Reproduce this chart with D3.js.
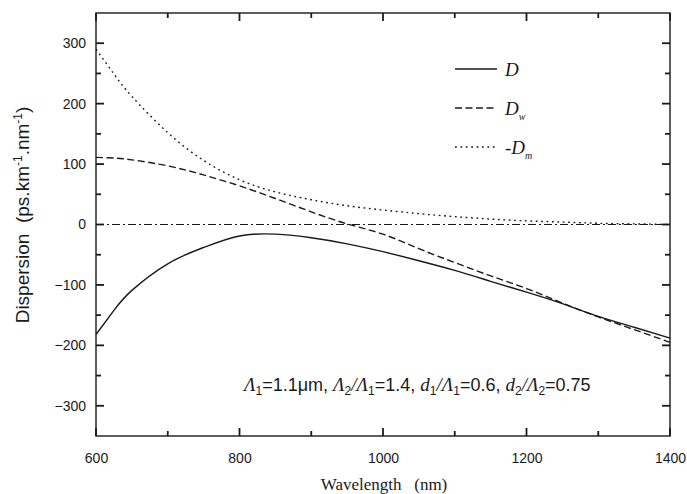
<!DOCTYPE html>
<html>
<head>
<meta charset="utf-8">
<script src="https://cdn.jsdelivr.net/npm/d3@7"></script>
<style>
  body { margin: 0; background: #fff; }
  svg { display: block; }
</style>
</head>
<body>
<div id="chart"></div>
<script>
// values (ps/km/nm vs wavelength in nm)
var wavelength = [600, 625, 650, 700, 750, 800, 850, 900, 950, 1000, 1050, 1100, 1150, 1200, 1250, 1300, 1350, 1400];
var D  = [-182, -142, -109, -65, -38, -19, -16, -22, -32, -45, -60, -76, -94, -112, -131, -152, -170, -188];
var Dw = [111, 110, 107, 97, 82, 64, 43, 21, 1, -16, -40, -63, -85, -106, -130, -153, -174, -195];
var negDm = [290, 249, 212, 152, 106, 74, 54, 41, 31, 24, 18, 13, 9, 6, 4, 2, 1, 0];

var xMajor = [600, 800, 1000, 1200, 1400];
var xMinor = [700, 900, 1100, 1300];
var yMajor = [-300, -200, -100, 0, 100, 200, 300];
var yMinor = [-250, -150, -50, 50, 150, 250];

var W = 687, H = 494;
var margin = {top: 13, right: 17, bottom: 58, left: 96};
var width = W - margin.left - margin.right,
    height = H - margin.top - margin.bottom;

var svg = d3.select("#chart")
            .append("svg")
            .attr("width", W)
            .attr("height", H);

var g = svg.append("g")
           .attr("transform", "translate(" + margin.left + "," + margin.top + ")");

var x = d3.scaleLinear().domain([600, 1400]).range([0, width]);
var y = d3.scaleLinear().domain([-350, 350]).range([height, 0]);

var ink = "#1a1a1a";
var tickFont = "14px 'Liberation Sans', Arial, sans-serif";

// frame
g.append("rect")
 .attr("width", width).attr("height", height)
 .attr("fill", "none").attr("stroke", ink).attr("stroke-width", 1.4);

// inward ticks on all four sides
function xTicks(vals, len) {
    vals.forEach(function(v) {
        g.append("line").attr("class", "tick-mark")
         .attr("x1", x(v)).attr("x2", x(v))
         .attr("y1", height).attr("y2", height - len);
        g.append("line").attr("class", "tick-mark")
         .attr("x1", x(v)).attr("x2", x(v))
         .attr("y1", 0).attr("y2", len);
    });
}
function yTicks(vals, len) {
    vals.forEach(function(v) {
        g.append("line").attr("class", "tick-mark")
         .attr("x1", 0).attr("x2", len)
         .attr("y1", y(v)).attr("y2", y(v));
        g.append("line").attr("class", "tick-mark")
         .attr("x1", width).attr("x2", width - len)
         .attr("y1", y(v)).attr("y2", y(v));
    });
}
xTicks(xMajor, 8); xTicks(xMinor, 5);
yTicks(yMajor, 8); yTicks(yMinor, 5);
g.selectAll(".tick-mark").attr("stroke", ink).attr("stroke-width", 1.8);

// tick labels through the d3 axes (tick marks drawn above)
var xa = g.append("g")
    .attr("transform", "translate(0," + height + ")")
    .call(d3.axisBottom(x).tickValues(xMajor).tickSize(0).tickPadding(17).tickFormat(d3.format("d")));
var ya = g.append("g")
    .call(d3.axisLeft(y).tickValues(yMajor).tickSize(0).tickPadding(10).tickFormat(d3.format("d")));
[xa, ya].forEach(function(a) {
    a.select(".domain").remove();
    a.selectAll(".tick line").remove();
    a.selectAll("text").style("font", tickFont).attr("fill", ink);
});

// zero line
g.append("line")
 .attr("x1", x(600)).attr("x2", x(1400))
 .attr("y1", y(0)).attr("y2", y(0))
 .attr("stroke", ink).attr("stroke-width", 1.2)
 .attr("stroke-dasharray", "8,3,2,3");

var series = [
    {name: "D", values: D, dash: null, sub: ""},
    {name: "D", values: Dw, dash: "7,3.5", sub: "w"},
    {name: "-D", values: negDm, dash: "1.8,3.6", sub: "m"}
];

var line = d3.line()
    .x(function(d) { return x(d[0]); })
    .y(function(d) { return y(d[1]); })
    .curve(d3.curveNatural);

g.selectAll(".curve")
 .data(series)
 .join("path")
 .attr("class", "curve")
 .attr("d", function(s) { return line(d3.zip(wavelength, s.values)); })
 .attr("fill", "none")
 .attr("stroke", ink)
 .attr("stroke-width", 1.4)
 .attr("stroke-dasharray", function(s) { return s.dash; });

// legend
var legend = g.selectAll(".leg")
    .data(series)
    .join("g")
    .attr("class", "leg")
    .attr("transform", function(s, i) { return "translate(359," + (56 + i * 39) + ")"; });

legend.append("line")
    .attr("x1", 0).attr("x2", 42)
    .attr("stroke", ink).attr("stroke-width", 1.4)
    .attr("stroke-dasharray", function(s) { return s.dash; });

var lt = legend.append("text")
    .attr("x", 50).attr("y", 7)
    .attr("fill", ink)
    .style("font", "italic 19px 'Liberation Serif', 'Times New Roman', serif");
lt.append("tspan").text(function(s) { return s.name; });
lt.append("tspan")
    .attr("dy", 5)
    .style("font-size", "10px")
    .text(function(s) { return s.sub; });

// parameter annotation
var serifIt = "italic 19px 'Liberation Serif', 'Times New Roman', serif";
var sans = "18px 'Liberation Sans', Arial, sans-serif";
var parts = [
    ["Λ", serifIt], ["1", "sub"], ["=1.1μm, ", sans],
    ["Λ", serifIt], ["2", "sub"], ["/", serifIt], ["Λ", serifIt], ["1", "sub"], ["=1.4, ", sans],
    ["d", serifIt], ["1", "sub"], ["/", serifIt], ["Λ", serifIt], ["1", "sub"], ["=0.6, ", sans],
    ["d", serifIt], ["2", "sub"], ["/", serifIt], ["Λ", serifIt], ["2", "sub"], ["=0.75", sans]
];
var ann = g.append("text")
    .attr("x", 148).attr("y", 378)
    .attr("fill", ink);
var down = false;
parts.forEach(function(p) {
    var t = ann.append("tspan").text(p[0]);
    if (p[1] === "sub") {
        t.style("font", "12px 'Liberation Sans', Arial, sans-serif").attr("dy", 4);
        down = true;
    } else {
        t.style("font", p[1]);
        if (down) { t.attr("dy", -4); down = false; }
    }
});

// axis titles
svg.append("text")
   .attr("x", margin.left + width / 2 + 1)
   .attr("y", 490)
   .attr("text-anchor", "middle")
   .attr("fill", ink)
   .style("font", "17px 'Liberation Serif', 'Times New Roman', serif")
   .text("Wavelength\u00a0\u00a0\u00a0(nm)");

var yl = svg.append("text")
   .attr("transform", "translate(29,215) rotate(-90)")
   .attr("text-anchor", "middle")
   .attr("fill", ink)
   .style("font", "19px 'Liberation Sans', Arial, sans-serif");
yl.append("tspan").text("Dispersion\u00a0\u00a0(ps.km");
yl.append("tspan").attr("dy", -7).style("font-size", "12px").text("-1");
yl.append("tspan").attr("dy", 7).text(".nm");
yl.append("tspan").attr("dy", -7).style("font-size", "12px").text("-1");
yl.append("tspan").attr("dy", 7).text(")");
</script>
</body>
</html>
